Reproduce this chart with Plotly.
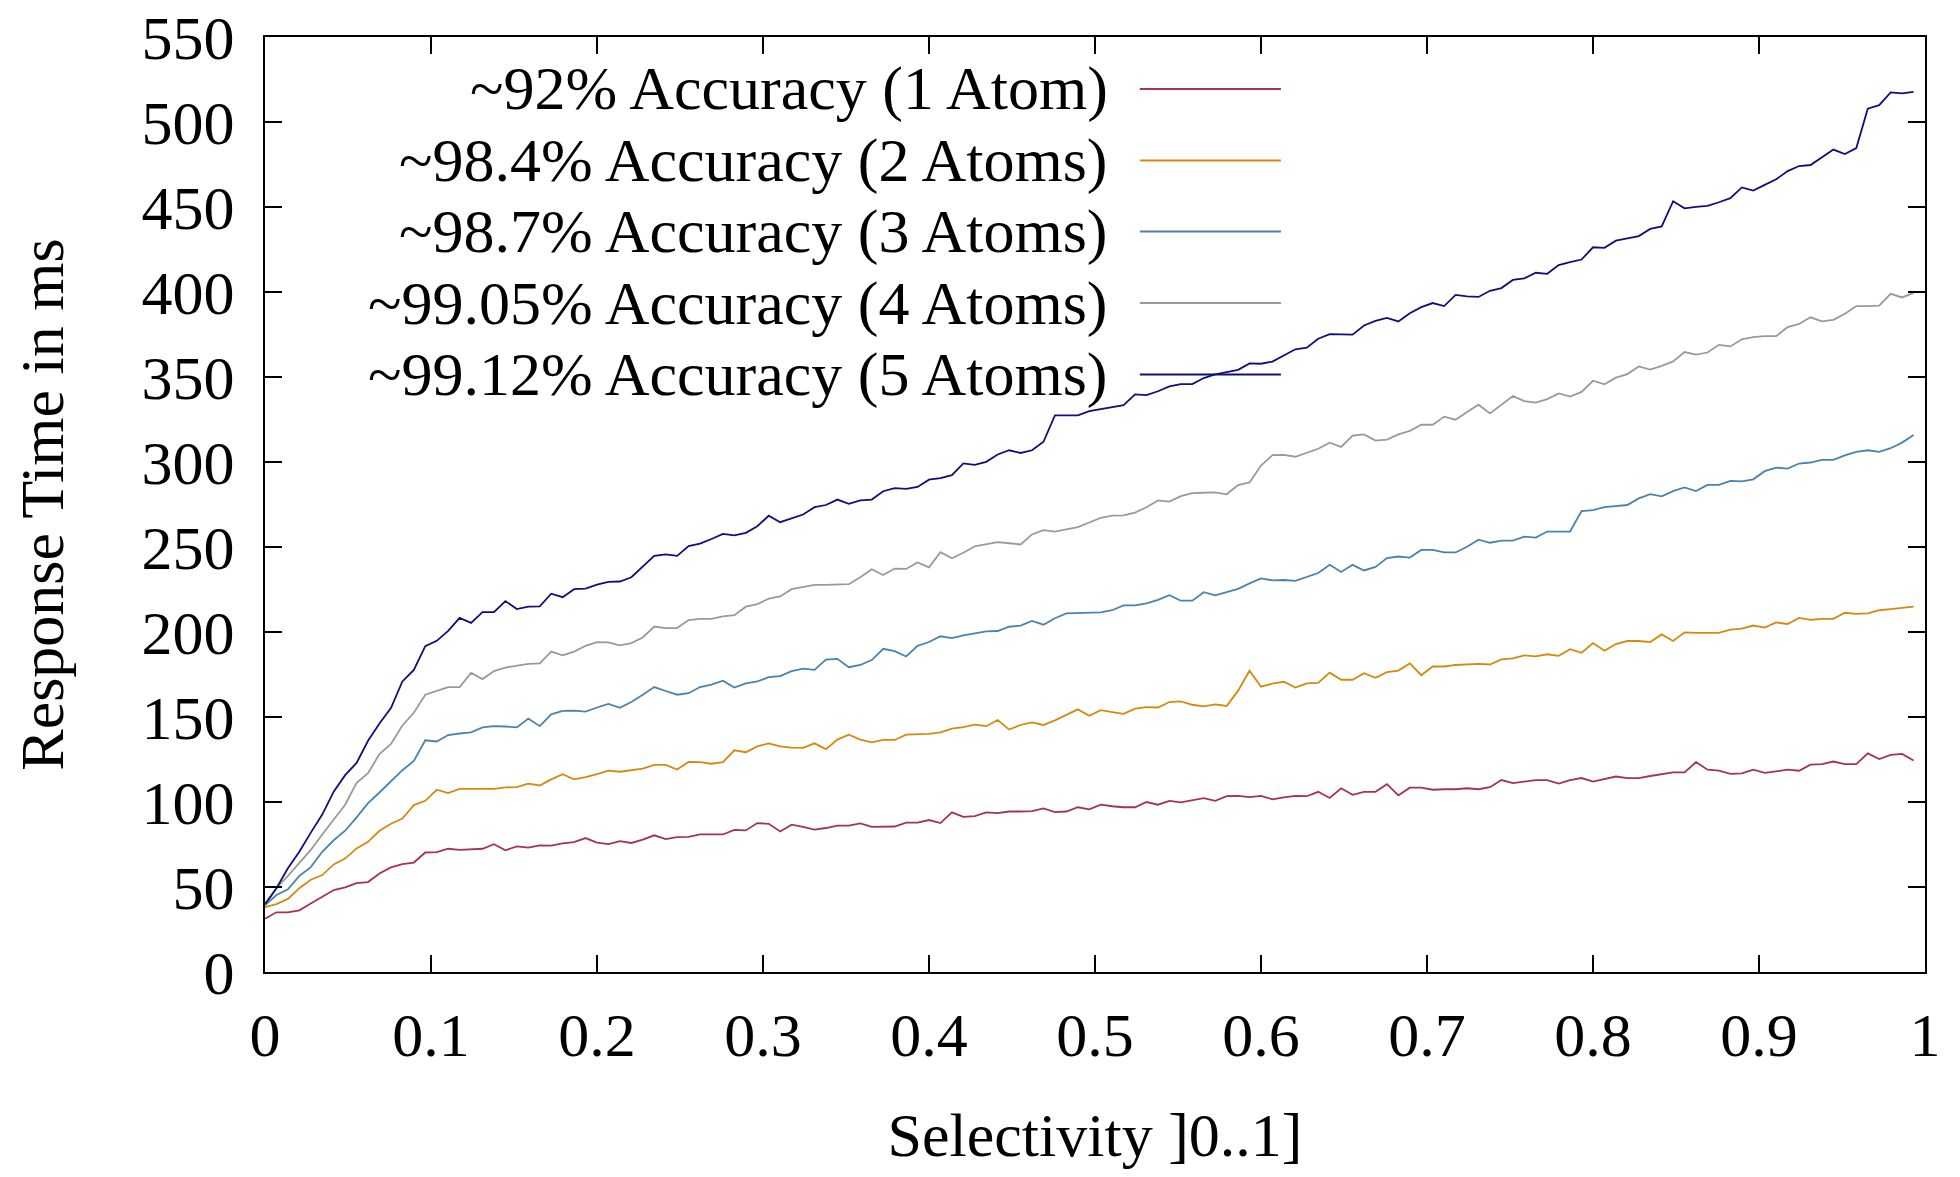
import plotly.graph_objects as go

# ---- data ----
n_points = 145
x_step = 1 / 145
selectivity = [i * x_step for i in range(n_points)]

atoms1 = [31.3, 35.1, 35.1, 36.3, 40.3, 44.4, 48.2, 49.8, 52.3, 52.9, 57.9, 61.5, 63.5, 64.4, 70.3, 70.5,
          72.5, 71.8, 72.1, 72.5, 75.2, 71.6, 73.9, 73.2, 74.5, 74.3, 75.7, 76.4, 78.8, 76.1, 75.2, 77.0,
          75.9, 77.9, 80.4, 78.2, 79.3, 79.5, 80.9, 81.1, 80.9, 83.6, 83.3, 87.6,
          87.2, 82.7, 86.7, 85.4, 83.8, 84.7, 86.1, 86.1, 87.4, 85.4, 85.6, 85.6, 87.9, 87.9, 89.4, 87.6,
          93.9, 91.2, 91.7, 93.9, 93.5, 94.4, 94.4, 94.6, 96.2, 94.1, 94.4, 96.9, 95.7, 98.4, 97.5, 96.9,
          96.9, 100.0, 98.4, 100.7, 99.8, 100.9, 102.3, 100.7, 103.4, 103.6, 102.9, 103.6, 101.6, 102.7,
          103.6, 103.4,
          106.0, 102.4, 108.1, 104.2, 106.0, 106.0, 110.5, 103.9, 108.4, 108.4, 107.2, 107.5, 107.5, 108.1,
          107.5, 108.7, 112.9, 111.1, 112.0, 112.9, 112.9, 110.8, 112.9, 114.1, 112.0, 113.5, 115.0, 114.1,
          114.1, 115.3, 116.2, 117.4, 117.4, 123.5, 119.0, 118.4, 116.5, 116.8, 119.0, 117.1, 118.0, 119.0,
          118.4, 122.0, 122.3, 123.8, 122.3, 122.3, 128.6, 125.3, 127.7, 128.3, 124.4]

atoms2 = [38.1, 39.9, 43.0, 49.3, 54.3, 57.0, 63.3, 66.7, 72.7, 76.6, 83.1, 87.2, 90.3, 98.2, 100.7, 107.2,
          105.2, 107.7, 107.7, 107.7, 107.7, 108.6, 108.8, 110.8, 109.7, 113.3, 116.4, 113.3, 114.6, 116.4,
          118.5, 117.8, 118.9, 119.6, 121.8, 121.8, 119.1, 123.6, 123.4, 122.5, 123.4, 130.4, 129.3, 132.7,
          134.5, 132.7, 132.0, 131.8, 134.5, 131.1, 136.7, 139.6, 136.7, 135.1, 136.5, 136.5, 139.6, 139.9,
          140.1, 141.0, 143.2, 144.1, 145.5, 144.6, 148.2, 142.6, 145.3, 146.8, 145.3, 148.0, 151.1, 154.5,
          150.7, 154.0, 152.9, 151.8, 154.9, 155.8, 155.6, 158.8, 159.2, 157.2, 156.3, 157.4, 156.5, 165.5,
          177.2, 167.8, 169.6, 170.7, 167.3, 169.8,
          170.1, 176.1, 171.9, 171.9, 175.8, 173.1, 176.4, 177.3, 181.5, 174.6, 179.7, 179.7, 180.6, 180.9,
          181.2, 180.9, 183.9, 184.5, 186.3, 185.7, 186.9, 186.0, 189.9, 187.8, 193.5, 189.0, 192.9, 194.7,
          194.7, 194.1, 198.6, 194.7, 199.8, 199.5, 199.5, 199.5, 201.4, 202.0, 203.8, 202.6, 205.6, 204.7,
          208.3, 207.1, 207.7, 207.7, 211.3, 210.7, 211.0, 212.8, 213.4, 214.0, 214.9]

atoms3 = [39.2, 45.3, 48.6, 56.5, 61.7, 70.7, 77.5, 83.1, 91.0, 99.3, 105.6, 112.4, 118.7, 124.1, 136.3, 135.6,
          139.4, 140.3, 141.0, 143.9, 144.6, 144.4, 143.9, 149.1, 144.6, 151.6, 153.6, 153.8, 153.2, 155.6,
          157.7, 155.4, 158.8, 163.1, 167.6, 165.3, 163.1, 164.0, 167.6, 169.1, 171.4, 167.3, 169.8, 170.9,
          173.4, 174.1, 177.0, 178.4, 177.7, 183.8, 184.2, 179.3, 180.6, 183.5, 190.1, 188.7, 185.6, 191.9,
          194.1, 197.5, 196.4, 198.0, 199.3, 200.4, 200.6, 203.1, 203.8, 206.5, 204.3, 208.1, 211.0, 211.2,
          211.2, 211.5, 212.8, 215.7, 215.7, 216.9, 218.9, 221.6, 218.4, 218.4, 223.4, 221.6, 223.4, 225.4,
          228.6, 231.5, 230.4, 230.6, 230.1, 232.6,
          234.7, 239.5, 235.3, 239.5, 236.2, 238.3, 243.5, 244.4, 243.8, 248.3, 248.3, 246.8, 246.8, 250.1,
          254.3, 252.5, 253.7, 253.7, 256.1, 255.5, 259.1, 259.1, 259.1, 271.1, 271.7, 273.5, 274.1, 274.7,
          278.6, 281.1, 279.8, 282.9, 285.0, 282.9, 286.5, 286.5, 288.9, 288.6, 289.8, 294.6, 296.7, 296.1,
          299.1, 299.7, 301.2, 301.2, 303.9, 306.0, 306.9, 306.0, 308.1, 311.4, 315.9]

atoms4 = [39.2, 49.3, 56.5, 64.0, 71.8, 80.9, 89.9, 98.4, 111.3, 116.9, 128.2, 134.2, 145.0, 152.5, 163.1, 165.3,
          167.6, 167.6, 175.9, 172.3, 177.0, 179.1, 180.2, 181.3, 181.5, 188.5, 186.3, 188.5, 191.9, 194.1,
          193.9, 192.1, 193.5, 196.8, 203.2, 202.3, 202.3, 207.0, 207.7, 207.7, 209.2, 209.9, 214.9, 216.4,
          219.6, 220.9, 225.2, 226.3, 227.7, 227.7, 227.9, 228.1, 232.2, 236.9, 233.5, 237.3, 237.1, 240.9,
          238.0, 247.0, 243.4, 246.6, 250.4, 251.7, 252.9, 252.2, 251.5, 257.4, 259.9, 259.0, 260.5, 261.7,
          264.4, 267.1, 268.4, 268.6, 270.2, 273.4, 277.4, 276.7, 279.9, 281.7, 281.9, 282.1, 281.0, 286.4,
          288.0, 297.9, 304.0, 304.2, 303.1, 305.6,
          307.8, 311.4, 308.9, 315.5, 316.2, 312.6, 313.2, 316.2, 318.3, 321.9, 321.9, 326.7, 324.9, 329.4,
          333.7, 328.6, 333.7, 338.8, 335.8, 334.9, 337.0, 340.3, 338.5, 341.2, 347.8, 345.7, 349.6, 351.7,
          356.2, 354.4, 356.5, 359.2, 364.7, 363.2, 364.4, 368.9, 368.0, 372.2, 373.4, 374.0, 374.0, 379.4,
          381.2, 385.1, 382.7, 383.6, 387.2, 391.7, 391.7, 392.0, 398.9, 396.8, 399.5]

atoms5 = [39.9, 49.3, 61.0, 70.7, 82.0, 92.6, 106.1, 115.8, 123.0, 136.0, 146.2, 155.2, 170.9, 177.7, 191.7, 194.8,
          200.7, 208.3, 205.4, 211.7, 211.7, 218.2, 213.5, 214.9, 215.1, 222.5, 220.5, 225.2, 225.5, 227.9,
          229.5, 229.7, 232.2, 238.5, 244.8, 245.7, 244.8, 250.5, 252.0, 254.7, 257.7, 256.8, 258.3, 262.2,
          268.4, 264.6, 266.8, 269.1, 273.4, 274.7, 277.9, 275.4, 277.4, 277.9, 282.8, 284.6, 284.2, 285.3,
          289.6, 290.5, 292.3, 299.2, 298.3, 300.1, 304.4, 306.9, 305.3, 306.9, 311.9, 327.4, 327.4, 327.4,
          329.9, 331.2, 332.3, 333.5, 339.8, 339.3, 341.6, 344.5, 345.8, 345.8, 349.4, 351.5, 352.8, 354.2,
          358.0, 357.8, 359.1, 362.7, 366.3, 367.2,
          372.5, 375.2, 375.2, 374.9, 380.3, 383.0, 384.8, 382.7, 387.5, 391.1, 393.5, 391.7, 398.3, 397.4,
          397.1, 400.7, 402.3, 407.1, 408.0, 411.3, 410.7, 415.8, 417.6, 419.1, 426.3, 426.0, 430.2, 431.7,
          432.9, 437.1, 438.6, 453.4, 449.2, 450.1, 450.7, 452.8, 455.2, 461.5, 459.7, 463.0, 466.3, 471.1,
          474.1, 474.7, 479.2, 483.8, 481.1, 484.7, 507.8, 509.9, 517.4, 516.8, 517.7]

series_names = [
    "~92% Accuracy (1 Atom)",
    "~98.4% Accuracy (2 Atoms)",
    "~98.7% Accuracy (3 Atoms)",
    "~99.05% Accuracy (4 Atoms)",
    "~99.12% Accuracy (5 Atoms)",
]
series_values = [atoms1, atoms2, atoms3, atoms4, atoms5]
series_colors = ["#a3354c", "#d48a0e", "#4b82b0", "#9a9a9a", "#10107a"]

x_tick_vals = [0, 0.1, 0.2, 0.3, 0.4, 0.5, 0.6, 0.7, 0.8, 0.9, 1]
x_tick_text = ["0", "0.1", "0.2", "0.3", "0.4", "0.5", "0.6", "0.7", "0.8", "0.9", "1"]
y_tick_vals = [0, 50, 100, 150, 200, 250, 300, 350, 400, 450, 500, 550]

# ---- figure ----
FONT = "Liberation Serif, Times New Roman, serif"
FS = 62

fig = go.Figure()
for name, vals, col in zip(series_names, series_values, series_colors):
    fig.add_trace(go.Scatter(x=selectivity, y=vals, mode="lines", name=name,
                             line=dict(color=col, width=1.8), showlegend=False))

# gnuplot-style key: right-aligned text with the sample line to its right
legend_y = [0.9445, 0.868, 0.792, 0.7155, 0.639]
for name, col, ly in zip(series_names, series_colors, legend_y):
    fig.add_annotation(x=0.509, y=ly, xref="paper", yref="paper", text=name,
                       showarrow=False, xanchor="right", yanchor="middle",
                       font=dict(family=FONT, size=FS, color="black"))
    fig.add_shape(type="line", xref="paper", yref="paper", x0=0.527, x1=0.612, y0=ly, y1=ly,
                  line=dict(color=col, width=2))

axis_common = dict(showgrid=False, zeroline=False, showline=True, linecolor="black", linewidth=2,
                   mirror="ticks", ticks="inside", ticklen=17, tickwidth=1.5, tickcolor="black",
                   ticklabeloverflow="allow",
                   tickfont=dict(family=FONT, size=FS, color="black"))

fig.update_xaxes(range=[0, 1], tickvals=x_tick_vals, ticktext=x_tick_text, ticklabelstandoff=8,
                 title=dict(text="Selectivity ]0..1]", font=dict(family=FONT, size=FS, color="black"),
                            standoff=58),
                 **axis_common)
fig.update_yaxes(range=[0, 550], tickvals=y_tick_vals, ticklabelstandoff=16,
                 title=dict(text="Response Time in ms", font=dict(family=FONT, size=FS, color="black"),
                            standoff=64),
                 **axis_common)

# page body adds an 8px margin, so the figure is sized to fill the rest of the window
fig.update_layout(width=1944, height=1161, paper_bgcolor="white", plot_bgcolor="white",
                  margin=dict(l=257, r=27, t=29, b=197, autoexpand=False))

fig.write_html("out.html")
